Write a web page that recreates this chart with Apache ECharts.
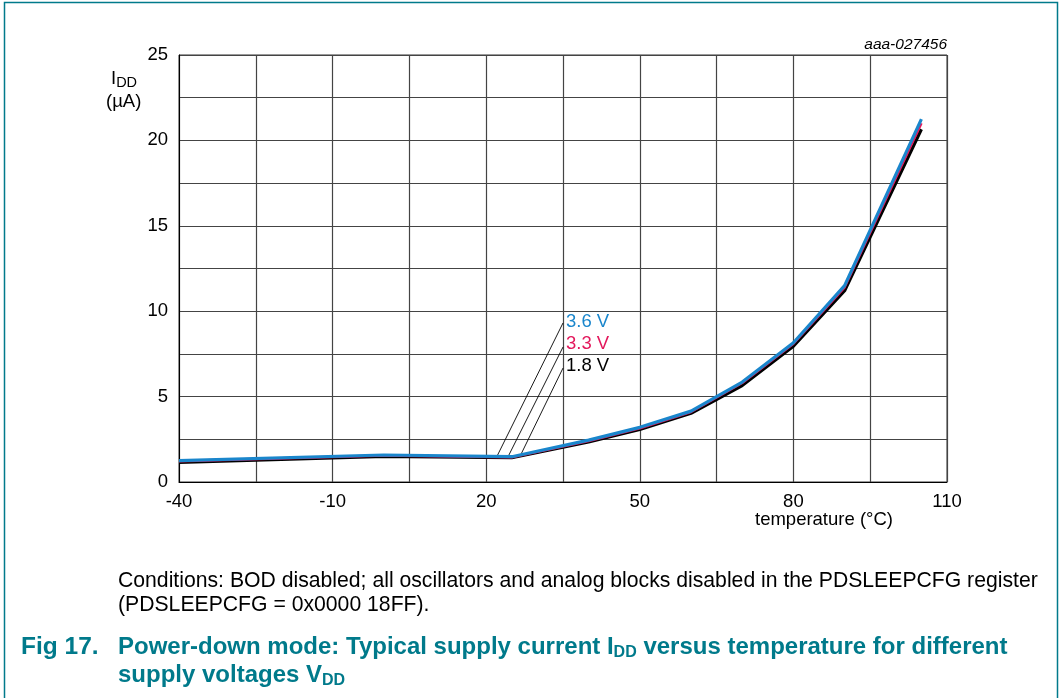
<!DOCTYPE html>
<html><head><meta charset="utf-8">
<script src="https://cdn.jsdelivr.net/npm/echarts@6/dist/echarts.min.js"></script>
<style>html,body{margin:0;padding:0;background:#fff}#c{width:1059px;height:698px}</style>
</head><body><div id="c"></div>
<script>
var temps = [-40, 0, 25, 40, 50, 60, 70, 80, 90, 105];
var v36 = [1.25, 1.58, 1.48, 2.45, 3.2, 4.15, 5.85, 8.15, 11.5, 21.25];
var v33 = [1.22, 1.55, 1.45, 2.4, 3.15, 4.1, 5.8, 8.1, 11.4, 21.0];
var v18 = [1.15, 1.5, 1.42, 2.35, 3.08, 4.02, 5.65, 7.95, 11.2, 20.65];
var xTickLabels = ['-40', '-10', '20', '50', '80', '110'];
var yTickLabels = ['0', '5', '10', '15', '20', '25'];
var seriesNames = ['3.6 V', '3.3 V', '1.8 V'];
var seriesColors = ['#1a86cc', '#e3185c', '#000000'];
var leaderLow = [[22.1, 1.5], [24.3, 1.5], [26.6, 1.5]];
var leaderHigh = [[35, 9.31], [35, 7.9], [35, 6.67]];
var labelAt = [[35, 9.37], [35, 8.08], [35, 6.79]];

function pairs(xs, ys) { return xs.map(function (x, i) { return [x, ys[i]]; }); }

var chart = echarts.init(document.getElementById('c'), null, {renderer: 'canvas'});
var F = 'Liberation Sans, Arial, sans-serif';
var teal = '#007a8b';

var markLineData = leaderLow.map(function (p, i) { return [{coord: p}, {coord: leaderHigh[i]}]; });
var markPointData = labelAt.map(function (p, i) {
  return {coord: p, label: {formatter: seriesNames[i], color: seriesColors[i]}};
});

chart.setOption({
  animation: false,
  backgroundColor: '#fff',
  grid: {left: 179, top: 55, right: 112, bottom: 216, show: true, borderColor: '#333', borderWidth: 1},
  xAxis: {
    type: 'value', min: -40, max: 110, interval: 15,
    axisLine: {show: true, onZero: false, lineStyle: {color: '#000', width: 1}},
    axisTick: {show: false},
    splitLine: {show: true, lineStyle: {color: '#444', width: 1.2}},
    axisLabel: {
      fontFamily: F, fontSize: 18.5, color: '#000', margin: 10,
      formatter: function (v) { var s = String(v); return xTickLabels.indexOf(s) >= 0 ? s : ''; }
    }
  },
  yAxis: {
    type: 'value', min: 0, max: 25, interval: 2.5,
    axisLine: {show: true, onZero: false, lineStyle: {color: '#000', width: 1}},
    axisTick: {show: false},
    splitLine: {show: true, lineStyle: {color: '#444', width: 1.2}},
    axisLabel: {
      fontFamily: F, fontSize: 18.5, color: '#000', margin: 11,
      formatter: function (v) { var s = String(v); return yTickLabels.indexOf(s) >= 0 ? s : ''; }
    }
  },
  series: [
    {
      name: seriesNames[2], type: 'line', data: pairs(temps, v18), symbol: 'none', z: 3,
      lineStyle: {color: seriesColors[2], width: 3.2},
      markLine: {
        silent: true, symbol: 'none', animation: false,
        lineStyle: {color: '#000', width: 0.9, type: 'solid'},
        label: {show: false}, data: markLineData
      },
      markPoint: {
        silent: true, symbol: 'circle', symbolSize: 0, animation: false,
        label: {show: true, position: 'right', distance: 2, fontFamily: F, fontSize: 18.5,
                backgroundColor: '#fff', padding: [0, 2, 0, 1]},
        data: markPointData
      }
    },
    {name: seriesNames[1], type: 'line', data: pairs(temps, v33), symbol: 'none', z: 4,
     lineStyle: {color: seriesColors[1], width: 2.6}},
    {name: seriesNames[0], type: 'line', data: pairs(temps, v36), symbol: 'none', z: 5,
     lineStyle: {color: seriesColors[0], width: 3.2}}
  ],
  graphic: [
    {type: 'rect', shape: {x: 4.5, y: 2.5, width: 1053, height: 720}, style: {fill: 'none', stroke: teal, lineWidth: 1.5}, z: 100},
    {type: 'text', left: 111, top: 69, style: {
      text: '{a|I}{b|DD}', rich: {a: {fontFamily: F, fontSize: 18.5, fill: '#000'}, b: {fontFamily: F, fontSize: 14.5, fill: '#000', padding: [8, 0, 0, 0]}}}},
    {type: 'text', left: 106, top: 92, style: {text: '(µA)', fontFamily: F, fontSize: 18.5, fill: '#000'}},
    {type: 'text', left: 755, top: 510, style: {text: 'temperature (°C)', fontFamily: F, fontSize: 18.5, fill: '#000'}},
    {type: 'text', right: 112, top: 37, style: {text: 'aaa-027456', fontFamily: F, fontSize: 15.5, fontStyle: 'italic', fill: '#000', align: 'right'}},
    {type: 'text', left: 118, top: 571, style: {text: 'Conditions: BOD disabled; all oscillators and analog blocks disabled in the PDSLEEPCFG register', fontFamily: F, fontSize: 21.2, fill: '#000'}},
    {type: 'text', left: 118, top: 595, style: {text: '(PDSLEEPCFG = 0x0000 18FF).', fontFamily: F, fontSize: 21.2, fill: '#000'}},
    {type: 'text', left: 21, top: 635, style: {text: 'Fig 17.', fontFamily: F, fontSize: 24.5, fontWeight: 'bold', fill: teal}},
    {type: 'text', left: 118, top: 635, style: {
      text: '{t|Power-down mode: Typical supply current I}{s|DD}{t| versus temperature for different}',
      rich: {t: {fontFamily: F, fontSize: 24, fontWeight: 'bold', fill: teal}, s: {fontFamily: F, fontSize: 16, fontWeight: 'bold', fill: teal, padding: [11, 0, 0, 0]}}}},
    {type: 'text', left: 118, top: 663, style: {
      text: '{t|supply voltages V}{s|DD}',
      rich: {t: {fontFamily: F, fontSize: 24, fontWeight: 'bold', fill: teal}, s: {fontFamily: F, fontSize: 16, fontWeight: 'bold', fill: teal, padding: [11, 0, 0, 0]}}}}
  ]
});
</script></body></html>
